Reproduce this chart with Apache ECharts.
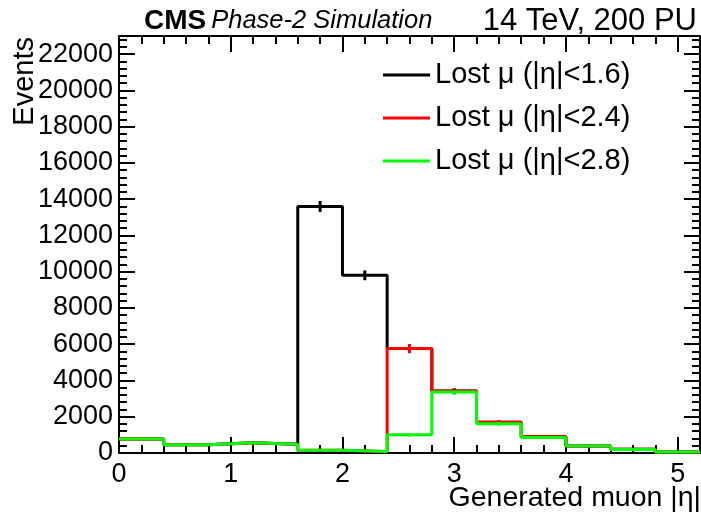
<!DOCTYPE html>
<html>
<head>
<meta charset="utf-8">
<script src="https://cdn.jsdelivr.net/npm/echarts@6/dist/echarts.min.js"></script>
<style>
  html, body { margin: 0; padding: 0; background: #fff; }
  #chart { width: 701px; height: 518px; }
</style>
</head>
<body>
<div id="chart"></div>
<script>
// bin edges in generated |eta|, width 0.4
const binEdges = [0, 0.4, 0.8, 1.2, 1.6, 2.0, 2.4, 2.8, 3.2, 3.6, 4.0, 4.4, 4.8, 5.2];
const binCenters = [0.2, 0.6, 1.0, 1.4, 1.8, 2.2, 2.6, 3.0, 3.4, 3.8, 4.2, 4.6, 5.0];

// events per bin
const lostEta16 = [770, 460, 570, 480, 13600, 9800, 5760, 3420, 1690, 900, 390, 200, 60];
const lostEta24 = [770, 460, 570, 480, 150, 80, 5760, 3420, 1690, 900, 390, 200, 60];
const lostEta28 = [770, 460, 570, 480, 150, 80, 1000, 3370, 1610, 860, 380, 195, 55];

// stat. errors (approx, from the error marks)
const errEta16 = [40, 30, 30, 30, 300, 270, 250, 160, 110, 80, 50, 40, 30];
const errEta24 = [40, 30, 30, 30, 30, 30, 250, 160, 110, 80, 50, 40, 30];
const errEta28 = [40, 30, 30, 30, 30, 30, 90, 160, 110, 80, 50, 40, 30];

const seriesNames = ['Lost \u03bc (|\u03b7|<1.6)', 'Lost \u03bc (|\u03b7|<2.4)', 'Lost \u03bc (|\u03b7|<2.8)'];
const seriesColors = ['#000000', '#ff0000', '#00ff00'];

const FONT = 'Liberation Sans, Arial, Helvetica, sans-serif';

const myChart = echarts.init(document.getElementById('chart'), null, { renderer: 'canvas' });

// histogram outline: one point per left edge + closing point at last edge
function stepData(vals) {
    return binEdges.map((e, i) => [e, vals[Math.min(i, vals.length - 1)]]);
}

function errData(vals, errs) {
    return binCenters.map((c, i) => [c, vals[i], errs[i]]);
}

function histSeries(idx, vals) {
    return {
        name: seriesNames[idx],
        type: 'line',
        step: 'end',
        xAxisIndex: 0,
        yAxisIndex: 0,
        symbol: 'none',
        color: seriesColors[idx],
        lineStyle: { color: seriesColors[idx], width: 3 },
        animation: false,
        data: stepData(vals)
    };
}

function errSeries(idx, vals, errs) {
    const col = seriesColors[idx];
    return {
        name: seriesNames[idx],
        type: 'custom',
        xAxisIndex: 0,
        yAxisIndex: 0,
        animation: false,
        renderItem: (params, api) => {
            const x = api.value(0), y = api.value(1), e = api.value(2);
            const top = api.coord([x, y + e]);
            const bot = api.coord([x, y - e]);
            return {
                type: 'line',
                shape: { x1: top[0], y1: top[1], x2: bot[0], y2: bot[1] },
                style: { stroke: col, lineWidth: 3 }
            };
        },
        data: errData(vals, errs)
    };
}

// frame lines stay on their own side (no onZero)
const frameLine = { show: true, onZero: false, lineStyle: { color: '#000', width: 2 } };
const hiddenLine = { show: false, onZero: false };
const noLabel = { show: false };
const noSplit = { show: false };

function tick(len) {
    return { show: true, inside: true, length: len, lineStyle: { color: '#000', width: 2 } };
}

const gridRect = { left: 119, right: 1, top: 36, bottom: 65, containLabel: false };

const option = {
    backgroundColor: '#fff',
    animation: false,
    title: [
        {
            text: '{b|CMS} {i|Phase-2 Simulation}',
            left: 139,
            top: 2,
            textStyle: {
                rich: {
                    b: { fontFamily: FONT, fontWeight: 'bold', fontSize: 28, color: '#000' },
                    i: { fontFamily: FONT, fontStyle: 'italic', fontWeight: 'normal', fontSize: 25.5, color: '#000' }
                }
            }
        },
        {
            text: '14 TeV, 200 PU',
            right: 4,
            top: 6,
            padding: 0,
            textStyle: { fontFamily: FONT, fontWeight: 'normal', fontSize: 31, color: '#000' }
        }
    ],
    legend: {
        orient: 'vertical',
        left: 383,
        top: 54,
        padding: 0,
        icon: 'rect',
        itemWidth: 47,
        itemHeight: 3,
        itemGap: 1,
        data: seriesNames,
        textStyle: { fontFamily: FONT, fontSize: 29, color: '#000', lineHeight: 42 }
    },
    grid: [gridRect, gridRect],
    xAxis: [
        {
            type: 'value', gridIndex: 0, position: 'bottom', min: 0, max: 5.2, interval: 1,
            axisLine: frameLine, axisTick: tick(16), splitLine: noSplit,
            axisLabel: { fontFamily: FONT, fontSize: 27, color: '#000', margin: 8, showMaxLabel: false }
        },
        {
            type: 'value', gridIndex: 0, position: 'top', min: 0, max: 5.2, interval: 1,
            axisLine: frameLine, axisTick: tick(16), splitLine: noSplit, axisLabel: noLabel
        },
        {
            type: 'value', gridIndex: 1, position: 'bottom', min: 0, max: 5.2, interval: 0.2,
            axisLine: hiddenLine, axisTick: tick(8), splitLine: noSplit, axisLabel: noLabel
        },
        {
            type: 'value', gridIndex: 1, position: 'top', min: 0, max: 5.2, interval: 0.2,
            axisLine: hiddenLine, axisTick: tick(8), splitLine: noSplit, axisLabel: noLabel
        }
    ],
    yAxis: [
        {
            type: 'value', gridIndex: 0, position: 'left', min: 0, max: 23000, interval: 2000,
            axisLine: frameLine, axisTick: tick(16), splitLine: noSplit,
            axisLabel: {
                fontFamily: FONT, fontSize: 27, color: '#000', margin: 6, showMaxLabel: false,
                formatter: (v) => String(v)
            }
        },
        {
            type: 'value', gridIndex: 0, position: 'right', min: 0, max: 23000, interval: 2000,
            axisLine: frameLine, axisTick: tick(16), splitLine: noSplit, axisLabel: noLabel
        },
        {
            type: 'value', gridIndex: 1, position: 'left', min: 0, max: 23000, interval: 400,
            axisLine: hiddenLine, axisTick: tick(8), splitLine: noSplit, axisLabel: noLabel
        },
        {
            type: 'value', gridIndex: 1, position: 'right', min: 0, max: 23000, interval: 400,
            axisLine: hiddenLine, axisTick: tick(8), splitLine: noSplit, axisLabel: noLabel
        }
    ],
    graphic: [
        {
            type: 'text', x: 25, y: 37, rotation: Math.PI / 2,
            style: { text: 'Events', fontFamily: FONT, fontSize: 29, fill: '#000', align: 'right', verticalAlign: 'middle' }
        },
        {
            type: 'text', x: 701, y: 498,
            style: { text: 'Generated muon |\u03b7|', fontFamily: FONT, fontSize: 28.5, fill: '#000', align: 'right', verticalAlign: 'middle' }
        }
    ],
    series: [
        histSeries(0, lostEta16),
        errSeries(0, lostEta16, errEta16),
        histSeries(1, lostEta24),
        errSeries(1, lostEta24, errEta24),
        histSeries(2, lostEta28),
        errSeries(2, lostEta28, errEta28)
    ]
};

myChart.setOption(option);
</script>
</body>
</html>
